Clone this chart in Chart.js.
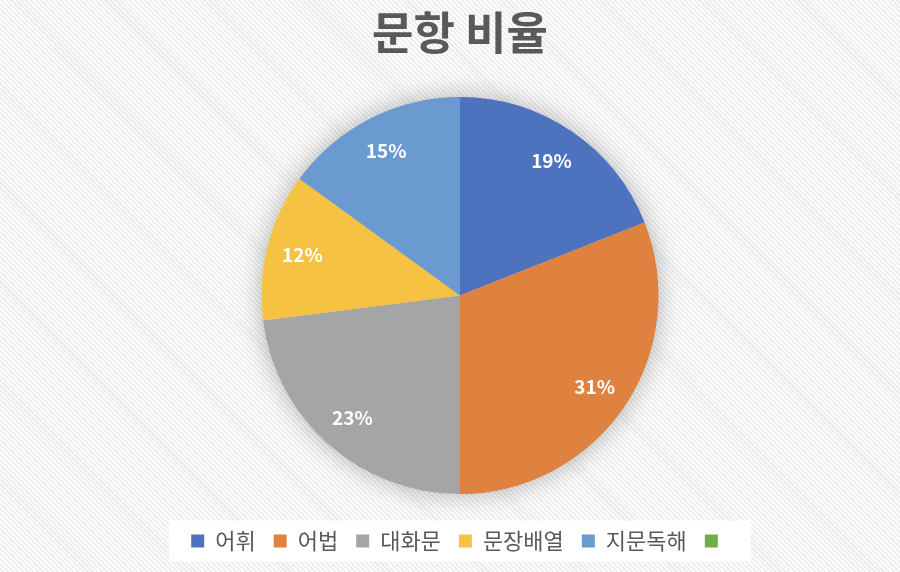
<!DOCTYPE html>
<html>
<head>
<meta charset="utf-8">
<script src="https://cdn.jsdelivr.net/npm/chart.js@4/dist/chart.umd.min.js"></script>
<style>
  html, body { margin: 0; padding: 0; }
  body {
    width: 900px; height: 572px; overflow: hidden;
    background: repeating-linear-gradient(45deg, #fdfdfd 0px, #fdfdfd 2px, #ebebeb 2px, #ebebeb 3.5px);
  }
  #wrap { width: 900px; height: 572px; position: relative; }
</style>
</head>
<body>
<div id="wrap"><canvas id="c" width="900" height="572"></canvas></div>
<script>
const titleText = '문항 비율';
const categories = ['어휘', '어법', '대화문', '문장배열', '지문독해', ''];
const values = [19, 31, 23, 12, 15, 0];
const colors = ['#4E73BE', '#E0823F', '#A5A5A5', '#F5C242', '#6A9AD0', '#74AB4C'];

const FONT = '"Noto Sans CJK KR", "Noto Sans", sans-serif';

const shadowPlugin = {
  id: 'pieShadow',
  beforeDatasetsDraw(chart) {
    const meta = chart.getDatasetMeta(0);
    const arc = meta.data[0];
    if (!arc) return;
    const { x, y, outerRadius } = arc.getProps(['x', 'y', 'outerRadius'], true);
    const ctx = chart.ctx;
    ctx.save();
    ctx.shadowColor = 'rgba(0,0,0,0.3)';
    ctx.shadowBlur = 26;
    ctx.shadowOffsetX = 0;
    ctx.shadowOffsetY = 0;
    ctx.fillStyle = '#cccccc';
    ctx.beginPath();
    ctx.arc(x, y, outerRadius - 0.5, 0, Math.PI * 2);
    ctx.fill();
    ctx.restore();
  }
};

const labelPlugin = {
  id: 'sliceLabels',
  afterDatasetsDraw(chart) {
    const meta = chart.getDatasetMeta(0);
    const ds = chart.data.datasets[0];
    const ctx = chart.ctx;
    ctx.save();
    ctx.fillStyle = '#ffffff';
    ctx.font = 'bold 19px ' + FONT;
    ctx.textAlign = 'center';
    ctx.textBaseline = 'middle';
    meta.data.forEach((arc, i) => {
      const v = ds.data[i];
      if (!v) return;
      const p = arc.getProps(['x', 'y', 'startAngle', 'endAngle', 'outerRadius'], true);
      const mid = (p.startAngle + p.endAngle) / 2;
      const r = p.outerRadius * 0.82;
      ctx.fillText(v + '%', p.x + Math.cos(mid) * r, p.y + Math.sin(mid) * r);
    });
    ctx.restore();
  }
};

const legendBgPlugin = {
  id: 'legendBg',
  beforeDraw(chart) {
    const lg = chart.legend;
    if (!lg || !lg.legendHitBoxes || !lg.legendHitBoxes.length) return;
    let minX = Infinity, maxX = -Infinity, minY = Infinity, maxY = -Infinity;
    lg.legendHitBoxes.forEach(b => {
      minX = Math.min(minX, b.left);
      maxX = Math.max(maxX, b.left + b.width);
      minY = Math.min(minY, b.top);
      maxY = Math.max(maxY, b.top + b.height);
    });
    const ctx = chart.ctx;
    ctx.save();
    ctx.fillStyle = '#ffffff';
    const cy = (minY + maxY) / 2;
    ctx.fillRect(minX - 22, cy - 20.5, (maxX - minX) + 44, 41);
    ctx.restore();
  }
};

new Chart(document.getElementById('c'), {
  type: 'pie',
  data: {
    labels: categories,
    datasets: [{
      data: values,
      backgroundColor: colors,
      borderWidth: 0
    }]
  },
  options: {
    responsive: false,
    animation: false,
    layout: { padding: { left: 20, right: 0, top: 0, bottom: 10 } },
    plugins: {
      title: {
        display: true,
        text: titleText,
        color: '#595959',
        font: { family: FONT, size: 45, weight: 'bold', lineHeight: 1.2 },
        padding: { top: 6, bottom: 37 }
      },
      legend: {
        position: 'bottom',
        title: {
          display: true,
          text: '',
          font: { size: 10, lineHeight: 1 },
          padding: { top: 8, bottom: 0 }
        },
        labels: {
          color: '#595959',
          font: { family: FONT, size: 22 },
          boxWidth: 13,
          boxHeight: 13,
          padding: 18
        }
      },
      tooltip: { enabled: false }
    }
  },
  plugins: [shadowPlugin, labelPlugin, legendBgPlugin]
});
</script>
</body>
</html>
